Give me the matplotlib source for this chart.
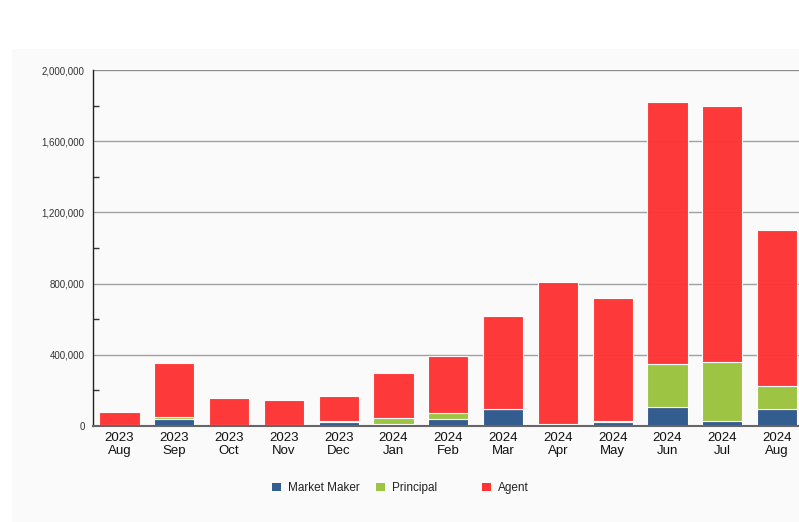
import matplotlib
matplotlib.use('Agg')
import matplotlib.pyplot as plt
from matplotlib.patches import Rectangle, Patch
from matplotlib.ticker import FuncFormatter, MultipleLocator
import numpy as np

plt.rcParams['font.family'] = ['Liberation Sans', 'DejaVu Sans']

years = ["2023", "2023", "2023", "2023", "2023", "2024", "2024", "2024",
         "2024", "2024", "2024", "2024", "2024"]
months = ["Aug", "Sep", "Oct", "Nov", "Dec", "Jan", "Feb", "Mar",
          "Apr", "May", "Jun", "Jul", "Aug"]

market_maker = [2000, 38000, 3000, 2000, 24000, 12000, 37000, 94000,
                7000, 22000, 105000, 28000, 93000]
principal = [1000, 12000, 2000, 2000, 3000, 35000, 34000, 2000,
             2000, 8000, 245000, 333000, 133000]
agent = [78000, 302000, 155000, 143000, 144000, 248000, 325000, 523000,
         802000, 690000, 1472000, 1439000, 876000]

c_mm = '#335c8f'
c_pr = '#9dc443'
c_ag = '#ff3333'

W, H = 799, 522
fig = plt.figure(figsize=(W / 100, H / 100), dpi=100)
fig.patch.set_facecolor('white')
# light grey panel behind everything
fig.add_artist(Rectangle((12 / W, 0), 1, (H - 49) / H, transform=fig.transFigure,
                         facecolor='#fafafa', edgecolor='none', zorder=0))

left, right, top, bottom = 93, 799, 70, 426
ax = fig.add_axes([left / W, (H - bottom) / H, (right - left) / W, (bottom - top) / H])
ax.set_facecolor('#fafafa')

x = np.arange(len(months))
mm = np.array(market_maker)
pr = np.array(principal)
ag = np.array(agent)
bw = 0.73
ax.bar(x, mm, bw, color=c_mm, edgecolor='white', linewidth=0.8, zorder=2)
ax.bar(x, pr, bw, bottom=mm, color=c_pr, edgecolor='white', linewidth=0.8, zorder=2)
ax.bar(x, ag, bw, bottom=mm + pr, color=c_ag, edgecolor='white', linewidth=0.8,
       alpha=0.97, zorder=2)

spacing = 54.8
c0 = 119.5
ax.set_xlim((left - c0) / spacing, (right - c0) / spacing)
ax.set_ylim(0, 2000000)

ax.set_xticks(x)
ax.set_xticklabels([f"{y}\n{m}" for y, m in zip(years, months)], fontsize=9.5,
                   color='#111111', linespacing=1.2)
ax.tick_params(axis='x', length=0, pad=4)

ax.yaxis.set_major_locator(MultipleLocator(400000))
ax.yaxis.set_minor_locator(MultipleLocator(200000))
ax.yaxis.set_major_formatter(FuncFormatter(lambda v, p: f"{int(v):,}"))
ax.tick_params(axis='y', which='major', length=0, pad=6, labelsize=7, labelcolor='#333333')
ax.tick_params(axis='y', which='minor', length=4, width=1, direction='in', color='#333333')

ax.grid(axis='y', which='major', color='#a0a0a0', linewidth=1, zorder=1)
ax.set_axisbelow(True)

for s in ['top', 'right']:
    ax.spines[s].set_visible(False)
ax.spines['left'].set_color('#222222')
ax.spines['left'].set_linewidth(1)
ax.spines['bottom'].set_color('#666666')
ax.spines['bottom'].set_linewidth(1.5)
ax.axhline(2000000, color='#888888', linewidth=1.2, zorder=1)

labels = ["Market Maker", "Principal", "Agent"]
colors = [c_mm, c_pr, c_ag]
leg_x = [272, 376, 482]
for lab, col, lx in zip(labels, colors, leg_x):
    fig.legend(handles=[Patch(facecolor=col, edgecolor='none', label=lab)],
               loc='center left', bbox_to_anchor=(lx / W, (H - 488) / H),
               frameon=False, fontsize=8.5, handlelength=0.75, handleheight=0.75,
               handletextpad=0.6, borderpad=0, borderaxespad=0, labelcolor='#222222')

fig.savefig('out.png', dpi=100, facecolor='white')
